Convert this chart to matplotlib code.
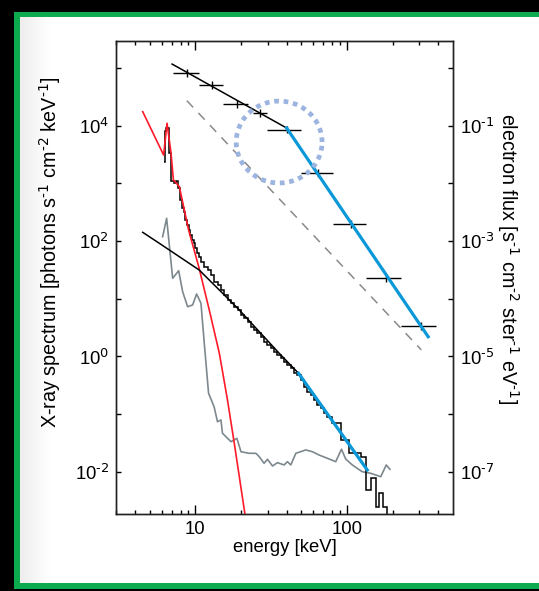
import numpy as np
import matplotlib
matplotlib.use("Agg")
import matplotlib.pyplot as plt
from matplotlib.patches import Rectangle
from matplotlib.ticker import FixedLocator, FixedFormatter, NullFormatter

plt.rcParams['font.family'] = ['Liberation Sans', 'DejaVu Sans']
plt.rcParams['mathtext.default'] = 'regular'

# X-ray count spectrum (histogram), bin edges in keV, photons s-1 cm-2 keV-1
hist_edges = [6.18, 6.28, 6.42, 6.67, 6.95, 7.20, 7.46, 7.69, 7.97, 8.18,
              8.38, 8.60, 8.82, 9.03, 9.27, 9.51, 9.74, 10.0, 10.26, 10.51,
              10.90, 11.46, 12.05, 12.69, 13.34, 14.02, 14.76, 15.51, 16.31, 17.18,
              18.06, 18.98, 19.98, 21.01, 22.09, 23.25, 24.44, 25.70, 27.05, 28.44,
              29.90, 31.48, 33.09, 34.79, 36.63, 38.51, 40.49, 42.62, 44.81, 47.10,
              49.59, 52.13, 54.81, 57.70, 60.67, 63.78, 67.14, 70.59, 74.20, 80.0,
              90.9, 103.1, 123.1, 134.0, 143.2, 154.5, 162.4, 172.6, 184.1, 194.8]
hist_values = [2380, 8090, 9120, 3320, 1110, 1030, 1100, 822, 515, 375,
               319, 232, 190, 156, 128, 104, 91.6, 75.0, 61.5, 53.7,
               44.0, 36.0, 31.6, 25.8, 19.8, 17.3, 14.2, 11.6, 9.53, 8.35,
               7.29, 6.39, 5.24, 4.59, 4.01, 3.28, 2.88, 2.52, 2.20, 1.80,
               1.58, 1.39, 1.21, 1.06, 0.93, 0.787, 0.713, 0.624, 0.512, 0.478,
               0.392, 0.300, 0.245, 0.215, 0.176, 0.144, 0.126, 0.104, 0.088, 0.070,
               0.0357, 0.021, 0.0181, 0.00485, 0.00774, 0.00249, 0.00426, 0.00249, 0.001]

# thermal fit (red)
thermal_E = [4.5, 6.18, 6.51, 6.92, 7.17, 7.85, 9.03, 10.6, 12.36, 14.4, 16.3, 18.07, 21.2]
thermal_F = [1.75e4, 3.1e3, 1.1e4, 3.33e3, 1.15e3, 877, 156, 33.8, 6.4, 1.14, 0.176, 0.0313, 0.00192]

# non-thermal fit, low part (black) and high part (blue)
nonth_E = [4.5, 5.79, 10.6, 14.4, 19.5, 26.4, 35.7, 47.9]
nonth_F = [142, 91.6, 31.6, 14.2, 6.4, 2.69, 1.14, 0.512]
nonth_hi_E = [47.9, 136]
nonth_hi_F = [0.512, 0.0108]

# background spectrum (grey)
bkg_E = [6.09, 6.47, 7.09, 7.77, 8.25, 8.90, 9.60, 10.2, 10.9, 11.46,
         12.23, 13.3, 14.0, 14.76, 15.1, 17.2, 18.8, 20.0, 22.6, 25.1,
         26.4, 28.4, 29.9, 32.3, 34.8, 38.5, 40.5, 42.6, 46.0, 53.5,
         59.1, 65.4, 74.2, 84.3, 92.0, 98.0, 108.4, 126, 143, 167,
         181.5, 192]
bkg_logF = [2.076, 2.395, 1.355, 1.487, 1.123, 0.863, 0.893, 1.083, 0.922, 0.229,
            -0.638, -0.87, -1.13, -1.10, -1.331, -1.477, -1.418, -1.65, -1.678, -1.678,
            -1.737, -1.851, -1.782, -1.898, -1.84, -1.88, -1.823, -1.88, -1.678, -1.62,
            -1.65, -1.707, -1.764, -1.823, -1.607, -1.776, -1.88, -1.997, -2.024, -2.083,
            -1.88, -1.955]

# electron flux (right axis), s-1 cm-2 ster-1 eV-1
elec_E = [8.8, 12.9, 18.8, 26.8, 40.1, 64.7, 107, 180, 309]
elec_lo = [7.17, 10.6, 15.3, 24.1, 29.8, 49.8, 80.9, 133, 226]
elec_hi = [10.6, 15.3, 22.3, 29.7, 49.8, 80.9, 133, 226, 385]
elec_F = [0.83, 0.507, 0.238, 0.166, 0.0859, 0.0150, 0.0020, 2.32e-4, 3.39e-5]

elec_fit_E = [7.03, 40.0]
elec_fit_F = [1.17, 0.0912]
elec_fit_hi_E = [40.0, 343]
elec_fit_hi_F = [0.0912, 2.2e-5]

elec_dash_E = [8.8, 309]
elec_dash_F = [0.271, 1.30e-5]

# highlighted region (dotted ring), centre and radius in decades
ring_E, ring_F = 35.7, 0.0521
ring_rx, ring_ry = 0.283, 0.71

FS = 13.3
LFS = 14.2

fig = plt.figure(figsize=(5.39, 5.91), dpi=100)
fig.patch.set_facecolor('black')
fig.add_artist(Rectangle((14 / 539, 2 / 591), 1, 577 / 591, transform=fig.transFigure,
                         facecolor='#0cab4e', edgecolor='none', zorder=-10))
fig.add_artist(Rectangle((20 / 539, 8 / 591), 1, 566 / 591, transform=fig.transFigure,
                         facecolor='white', edgecolor='none', zorder=-9))
# faint shading along the left edge of the panel
shade = fig.add_axes([20 / 539, 8 / 591, 30 / 539, 566 / 591], zorder=-8)
shade.imshow(np.linspace(0.93, 1.0, 50)[None, :], cmap='gray', vmin=0, vmax=1,
             aspect='auto', interpolation='bicubic')
shade.axis('off')

ax = fig.add_axes([116 / 539, 77 / 591, 337 / 539, 473 / 591])
ax.set_facecolor('none')
ax.set_xscale('log')
ax.set_yscale('log')
ylo, yhi = 10 ** -2.73, 10 ** 5.468
ax.set_xlim(3, 500)
ax.set_ylim(ylo, yhi)

ax.stairs(hist_values, hist_edges, baseline=None, color='black', lw=1.1, zorder=3)
ax.plot(bkg_E, 10 ** np.array(bkg_logF), color='#7d888e', lw=1.2, zorder=2)
ax.plot(thermal_E, thermal_F, color='#ff1a2a', lw=1.2, zorder=4)
ax.plot(nonth_E, nonth_F, color='black', lw=1.1, zorder=4)
ax.plot(nonth_hi_E, nonth_hi_F, color='#0a98d8', lw=2.3, zorder=5)

ax2 = ax.twinx()
ax2.set_yscale('log')
ax2.set_ylim(ylo * 1e-5, yhi * 1e-5)
ax2.set_facecolor('none')

ex = np.array(elec_E)
ef = np.array(elec_F)
ax2.errorbar(ex, ef, xerr=[ex - np.array(elec_lo), np.array(elec_hi) - ex],
             yerr=[ef - ef / 1.17, ef * 1.17 - ef], fmt='none', ecolor='black',
             elinewidth=1.0, capsize=0, zorder=4)
ax2.plot(elec_fit_E, elec_fit_F, color='black', lw=1.1, zorder=4)
ax2.plot(elec_fit_hi_E, elec_fit_hi_F, color='#0a98d8', lw=2.3, zorder=5)
ax2.plot(elec_dash_E, elec_dash_F, color='#8a8a8a', lw=1.1, ls=(0, (6, 5)), zorder=2)

t = np.linspace(0, 2 * np.pi, 300)
ax2.plot(ring_E * 10 ** (ring_rx * np.cos(t)), ring_F * 10 ** (ring_ry * np.sin(t)),
         color='#9cb4e0', lw=3.4, ls=(0, (1, 1)), solid_capstyle='butt', zorder=6)


def sup(e):
    # power-of-ten label with a plain hyphen as in the original
    return '10$^{\\text{%s}}$' % e


# ticks
ax.xaxis.set_major_locator(FixedLocator([10, 100]))
ax.xaxis.set_major_formatter(FixedFormatter(['10', '100']))
ax.xaxis.set_minor_locator(FixedLocator([3, 4, 5, 6, 7, 8, 9, 20, 30, 40, 50, 60, 70, 80, 90,
                                         200, 300, 400]))
ax.xaxis.set_minor_formatter(NullFormatter())
ax.yaxis.set_major_locator(FixedLocator([1e-2, 1e0, 1e2, 1e4]))
ax.yaxis.set_major_formatter(FixedFormatter([sup('-2'), sup('0'), sup('2'), sup('4')]))
ax.yaxis.set_minor_locator(FixedLocator([1e-1, 1e1, 1e3, 1e5]))
ax.yaxis.set_minor_formatter(NullFormatter())
ax2.yaxis.set_major_locator(FixedLocator([1e-7, 1e-5, 1e-3, 1e-1]))
ax2.yaxis.set_major_formatter(FixedFormatter([sup('-7'), sup('-5'), sup('-3'), sup('-1')]))
ax2.yaxis.set_minor_locator(FixedLocator([1e-6, 1e-4, 1e-2, 1e0]))
ax2.yaxis.set_minor_formatter(NullFormatter())

ax.tick_params(axis='x', which='both', direction='in', top=True, labelsize=FS, pad=5, width=1)
ax.tick_params(axis='x', which='major', length=6.5)
ax.tick_params(axis='x', which='minor', length=3)
ax.tick_params(axis='y', which='both', direction='in', right=False, length=3.6, width=1,
               labelsize=FS, pad=5)
ax2.tick_params(axis='y', which='both', direction='in', length=3.6, width=1,
                labelsize=FS, pad=5)
for a in (ax, ax2):
    for s in a.spines.values():
        s.set_linewidth(1.0)
        s.set_color('#222222')

ax.set_xlabel('energy [keV]', fontsize=FS, labelpad=1)
ax.set_ylabel(r'X-ray spectrum [photons s$^{\text{-1}}$ cm$^{\text{-2}}$ keV$^{\text{-1}}$]',
              fontsize=LFS)
ax.yaxis.set_label_coords(-0.158, 0.554)
ax2.set_ylabel(r'electron flux [s$^{\text{-1}}$ cm$^{\text{-2}}$ ster$^{\text{-1}}$ eV$^{\text{-1}}$]',
               fontsize=LFS, rotation=270, va='center')
ax2.yaxis.set_label_coords(1.163, 0.539)

fig.savefig('out.png', dpi=100, facecolor=fig.get_facecolor())
